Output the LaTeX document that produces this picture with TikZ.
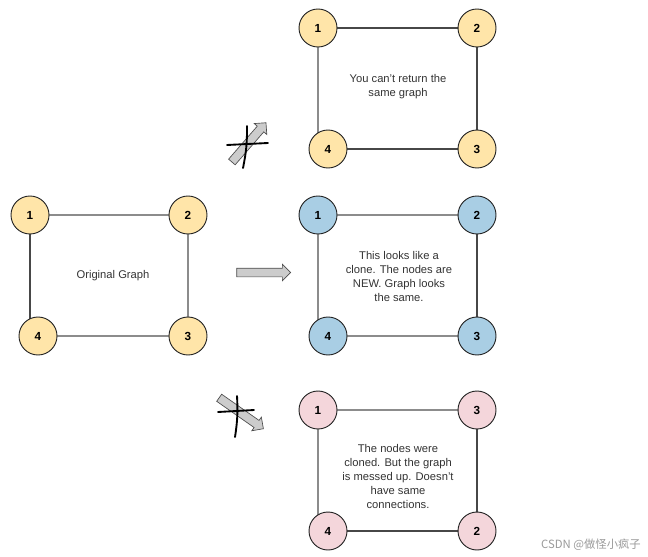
\documentclass[tikz,border=0pt]{standalone}
\usepackage{fontspec}
\setmainfont{Liberation Sans}
\newfontfamily\cjkfont{Noto Sans CJK SC}
\usepackage{tikz}
\usetikzlibrary{shapes.arrows, backgrounds}
\definecolor{oldfill}{HTML}{FFE5A9}
\definecolor{newfill}{HTML}{A9CEE4}
\definecolor{badfill}{HTML}{F4D6DB}
\tikzset{vertex/.style = {circle,draw=black!85,line width=0.7pt,minimum size=28.5pt,inner sep=0pt,font=\fontsize{8.8}{10}\selectfont\bfseries}}
\tikzset{edge/.style = {draw=black!45,line width=0.9pt}}
\tikzset{darkedge/.style = {draw=black!72,line width=0.8pt}}
\tikzset{caption/.style = {align=center,text=black!80,font=\fontsize{8.4}{10.5}\selectfont}}
\tikzset{blockarrow/.style = {single arrow,draw=black!70,fill=black!20,line width=0.5pt,minimum width=12pt,single arrow head extend=3pt,inner xsep=0pt,inner ysep=3pt}}
\tikzset{strike/.style = {line width=1.4pt,line cap=round}}

\begin{document}
\begin{tikzpicture}[x=0.75pt,y=-0.75pt]
                    \useasboundingbox (0,0) rectangle (648,556);

                    % original graph
                    \node [vertex,fill=oldfill] (o1) at ( 30,215) {1};
                    \node [vertex,fill=oldfill] (o2) at (188,215) {2};
                    \node [vertex,fill=oldfill] (o3) at (188,336) {3};
                    \node [vertex,fill=oldfill] (o4) at ( 38,336) {4};
                    \node [caption] (otext) at (113,276) {Original Graph};

                    % same graph returned
                    \node [vertex,fill=oldfill] (a1) at (318, 28) {1};
                    \node [vertex,fill=oldfill] (a2) at (477, 28) {2};
                    \node [vertex,fill=oldfill] (a3) at (477,149) {3};
                    \node [vertex,fill=oldfill] (a4) at (328,149) {4};
                    \node [caption] (atext) at (398,87) {You can't return the\\same graph};

                    % good clone
                    \node [vertex,fill=newfill] (b1) at (318,215) {1};
                    \node [vertex,fill=newfill] (b2) at (477,215) {2};
                    \node [vertex,fill=newfill] (b3) at (477,336) {3};
                    \node [vertex,fill=newfill] (b4) at (328,336) {4};
                    \node [caption] (btext) at (399,276) {This looks like a\\clone. The nodes are\\NEW. Graph looks\\the same.};

                    % bad clone
                    \node [vertex,fill=badfill] (c1) at (318,410) {1};
                    \node [vertex,fill=badfill] (c3) at (477,410) {3};
                    \node [vertex,fill=badfill] (c2) at (477,531) {2};
                    \node [vertex,fill=badfill] (c4) at (328,531) {4};
                    \node [caption] (ctext) at (398,476) {The nodes were\\cloned. But the graph\\is messed up. Doesn't\\have same\\connections.};

                    \begin{scope}[on background layer]
                        \draw [edge] (o1) -- (o2);
                        \draw [edge] (o2) -- (o3);
                        \draw [edge] (o4) -- (o3);
                        \draw [darkedge] (o1) -- (o1 |- o4);

                        \draw [darkedge] (a1) -- (a2);
                        \draw [darkedge] (a2) -- (a3);
                        \draw [darkedge] (a4) -- (a3);
                        \draw [edge] (a1) -- (a1 |- a4);

                        \draw [edge] (b1) -- (b2);
                        \draw [darkedge] (b2) -- (b3);
                        \draw [edge] (b4) -- (b3);
                        \draw [edge] (b1) -- (b1 |- b4);

                        \draw [edge] (c1) -- (c3);
                        \draw [darkedge] (c3) -- (c2);
                        \draw [darkedge] (c4) -- (c2);
                        \draw [edge] (c1) -- (c1 |- c4);
                    \end{scope}

                    % arrows
                    \node [blockarrow,minimum height=39pt,rotate=49] (fail1) at (247.5,144) {};
                    \node [blockarrow,minimum height=40.5pt] (copy) at (261.5,272.5) {};
                    \node [blockarrow,minimum height=40.5pt,rotate=-35] (fail2) at (239.5,412) {};

                    \draw [strike] (247,126) to [bend left=6] (243,168);
                    \draw [strike] (227,145) -- (268,143);
                    \draw [strike] (237,396) to [bend left=6] (235,437);
                    \draw [strike] (218,412) -- (254,410);

                    \node [text=black!40,font=\cjkfont\fontsize{8.5}{10}\selectfont] (mark) at (591,545) {CSDN @做怪小疯子};
                \end{tikzpicture}
\end{document}
